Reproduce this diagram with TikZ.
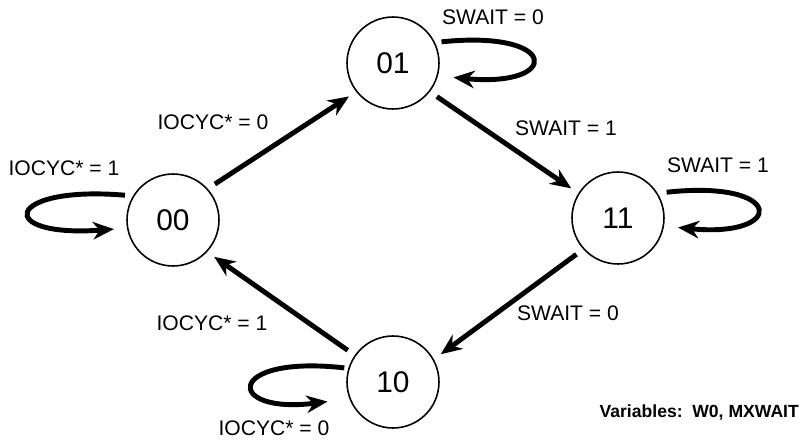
\documentclass[tikz,border=0pt]{standalone}
\usepackage{fontspec}
\setmainfont{Liberation Sans}
\usetikzlibrary{arrows.meta}

\begin{document}
\begin{tikzpicture}[x=0.02cm,y=-0.02cm,
  st/.style={draw,circle,line width=0.9pt,minimum size=1.84cm,inner sep=0pt,
             font=\fontsize{17}{20}\selectfont},
  arr/.style={-{Stealth[length=12pt,width=10pt]},line width=2.8pt,
              shorten <=0.17cm,shorten >=0.17cm},
  lbl/.style={font=\fontsize{12}{14}\selectfont}]
\useasboundingbox (0,0) rectangle (809,440);
% states
\node[st] (s00) at (173,220) {00};
\node[st] (s01) at (393,63) {01};
\node[st] (s11) at (618,218) {11};
\node[st] (s10) at (393,382) {10};
% transitions
\draw[arr] (s00.42) -- (s01.218);
\draw[arr] (s01.322) -- (s11.148);
\draw[arr] (s11.222) -- (s10.29);
\draw[arr] (s10.145) -- (s00.317);
% self loops
\draw[arr,shorten <=0.13cm,shorten >=0.31cm] (s01.26) .. controls +(126,-13) and +(123,12) .. (s01.-16);
\draw[arr,shorten <=0.16cm,shorten >=0.26cm] (s00.149) .. controls +(-129,-11) and +(-133,10) .. (s00.190);
\draw[arr,shorten <=0.18cm,shorten >=0.28cm] (s11.32) .. controls +(128,-14) and +(122,12) .. (s11.-10);
\draw[arr,shorten <=0.08cm,shorten >=0.44cm] (s10.163) .. controls +(-124,-14) and +(-125,16) .. (s10.201.6);
% labels
\node[lbl] (c01) at (493,17) {SWAIT = 0};
\node[lbl] (c00) at (64,168) {IOCYC* = 1};
\node[lbl] (c11) at (718,165) {SWAIT = 1};
\node[lbl] (c10) at (274,428) {IOCYC* = 0};
\node[lbl] (t0001) at (213,122) {IOCYC* = 0};
\node[lbl] (t0111) at (566,128) {SWAIT = 1};
\node[lbl] (t1110) at (568,313) {SWAIT = 0};
\node[lbl] (t1000) at (212,323) {IOCYC* = 1};
\node[font=\bfseries\fontsize{10}{12}\selectfont,anchor=east] (vars) at (805,412) {Variables:\ \ W0, MXWAIT};
\end{tikzpicture}
\end{document}
